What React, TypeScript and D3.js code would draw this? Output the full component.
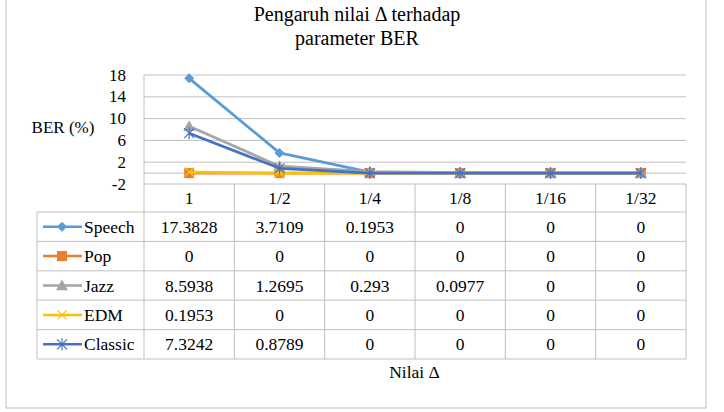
import React from "react";
import * as d3 from "d3";

const categories = ["1", "1/2", "1/4", "1/8", "1/16", "1/32"];
const seriesNames = ["Speech", "Pop", "Jazz", "EDM", "Classic"];
const speech = [17.3828, 3.7109, 0.1953, 0, 0, 0];
const pop = [0, 0, 0, 0, 0, 0];
const jazz = [8.5938, 1.2695, 0.293, 0.0977, 0, 0];
const edm = [0.1953, 0, 0, 0, 0, 0];
const classic = [7.3242, 0.8789, 0, 0, 0, 0];
const speechLabels = ["17.3828", "3.7109", "0.1953", "0", "0", "0"];
const popLabels = ["0", "0", "0", "0", "0", "0"];
const jazzLabels = ["8.5938", "1.2695", "0.293", "0.0977", "0", "0"];
const edmLabels = ["0.1953", "0", "0", "0", "0", "0"];
const classicLabels = ["7.3242", "0.8789", "0", "0", "0", "0"];
const yTicks = [-2, 2, 6, 10, 14, 18];
const colors = ["#5B9BD5", "#ED7D31", "#A5A5A5", "#FFC000", "#4472C4"];
const markers = ["diamond", "square", "triangle", "x", "star"];

const values = [speech, pop, jazz, edm, classic];
const labels = [speechLabels, popLabels, jazzLabels, edmLabels, classicLabels];

const FONT = "'Liberation Serif', 'Times New Roman', serif";
const GRID = "#BFBFBF";

function Marker({ type, x, y, color }: { type: string; x: number; y: number; color: string }) {
  if (type === "diamond") {
    const r = 5;
    return <path d={`M${x},${y - r}L${x + r},${y}L${x},${y + r}L${x - r},${y}Z`} fill={color} />;
  }
  if (type === "square") {
    const r = 5;
    return <rect x={x - r} y={y - r} width={2 * r} height={2 * r} fill={color} />;
  }
  if (type === "triangle") {
    const r = 6;
    return <path d={`M${x},${y - r}L${x + r},${y + r * 0.8}L${x - r},${y + r * 0.8}Z`} fill={color} />;
  }
  if (type === "x") {
    const r = 4.5;
    return (
      <path d={`M${x - r},${y - r}L${x + r},${y + r}M${x - r},${y + r}L${x + r},${y - r}`} stroke={color} strokeWidth={1.2} fill="none" />
    );
  }
  const r = 5;
  return (
    <path
      d={`M${x - r},${y - r}L${x + r},${y + r}M${x - r},${y + r}L${x + r},${y - r}M${x},${y - r - 1}L${x},${y + r + 1}`}
      stroke={color}
      strokeWidth={1.2}
      fill="none"
    />
  );
}

export default function App() {
  const W = 724;
  const H = 412;
  const left = 144;
  const right = 686;
  const top = 75;
  const bottom = 184;
  const x = d3.scaleBand<string>().domain(categories).range([left, right]);
  const y = d3.scaleLinear().domain([-2, 18]).range([bottom, top]);
  const headerBottom = 212;
  const tableBottom = 359;
  const legendLeft = 37;
  const rowH = (tableBottom - headerBottom) / seriesNames.length;
  const cx = (i: number) => (x(categories[i]) as number) + x.bandwidth() / 2;
  const line = d3
    .line<number>()
    .x((_, i) => cx(i))
    .y((d) => y(d));

  return (
    <svg width={W} height={H} style={{ position: "absolute", left: 0, top: 0 }} fontFamily={FONT}>
      <rect x={0} y={0} width={W} height={H} fill="#fff" />
      <rect x={6} y={-1} width={700} height={409} fill="#fff" stroke="#BFBFBF" strokeWidth={1} />
      <text x={357} y={21} textAnchor="middle" fontSize={20}>
        Pengaruh nilai Δ terhadap
      </text>
      <text x={357} y={45} textAnchor="middle" fontSize={20}>
        parameter BER
      </text>
      <text x={63} y={133} textAnchor="middle" fontSize={17}>
        BER (%)
      </text>
      {yTicks.map((t) => (
        <g key={t}>
          {t !== -2 && <line x1={left} x2={right} y1={y(t)} y2={y(t)} stroke={GRID} strokeWidth={1} />}
          <text x={126} y={y(t) + 5.5} textAnchor="end" fontSize={17}>
            {t}
          </text>
        </g>
      ))}
      <line x1={left} x2={right} y1={y(0)} y2={y(0)} stroke={GRID} strokeWidth={1} />
      <line x1={left} x2={left} y1={top} y2={bottom} stroke={GRID} strokeWidth={1} />

      <line x1={left} x2={right} y1={bottom} y2={bottom} stroke={GRID} />
      {seriesNames.map((_, i) => (
        <line key={i} x1={legendLeft} x2={right} y1={headerBottom + i * rowH} y2={headerBottom + i * rowH} stroke={GRID} />
      ))}
      <line x1={legendLeft} x2={right} y1={tableBottom} y2={tableBottom} stroke={GRID} />
      <line x1={legendLeft} x2={legendLeft} y1={headerBottom} y2={tableBottom} stroke={GRID} />
      {categories.map((c) => (
        <line key={c} x1={x(c)} x2={x(c)} y1={bottom} y2={tableBottom} stroke={GRID} />
      ))}
      <line x1={right} x2={right} y1={bottom} y2={tableBottom} stroke={GRID} />
      {categories.map((c, j) => (
        <text key={c} x={cx(j)} y={204} textAnchor="middle" fontSize={17.5}>
          {c}
        </text>
      ))}
      {seriesNames.map((name, i) => {
        const cy = headerBottom + (i + 0.5) * rowH;
        return (
          <g key={name}>
            <line x1={43} x2={82} y1={cy} y2={cy} stroke={colors[i]} strokeWidth={2.5} />
            <Marker type={markers[i]} x={62} y={cy} color={colors[i]} />
            <text x={84} y={cy + 6} fontSize={17.5}>
              {name}
            </text>
            {labels[i].map((v, j) => (
              <text key={j} x={cx(j)} y={cy + 6} textAnchor="middle" fontSize={17.5}>
                {v}
              </text>
            ))}
          </g>
        );
      })}
      <text x={414.5} y={378} textAnchor="middle" fontSize={17.5}>
        Nilai Δ
      </text>

      {values.map((vals, i) => (
        <g key={i}>
          <path d={line(vals) as string} fill="none" stroke={colors[i]} strokeWidth={2.75} strokeLinejoin="round" />
          {vals.map((v, j) => (
            <Marker key={j} type={markers[i]} x={cx(j)} y={y(v)} color={colors[i]} />
          ))}
        </g>
      ))}
    </svg>
  );
}
